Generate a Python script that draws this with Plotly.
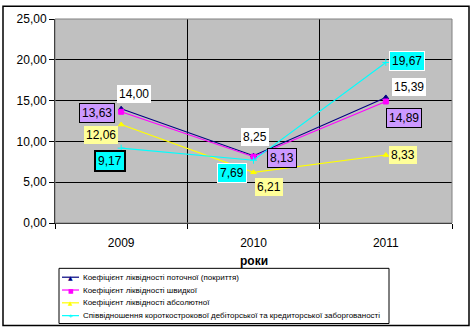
import plotly.graph_objects as go

years = ["2009", "2010", "2011"]
names = [
    "Коефіцієнт ліквідності поточної (покриття)",
    "Коефіцієнт ліквідності швидкої",
    "Коефіцієнт ліквідності абсолютної",
    "Співвідношення короткострокової дебіторської та кредиторської заборгованості",
]
current = [14.00, 8.25, 15.39]
quick = [13.63, 8.13, 14.89]
absolute = [12.06, 6.21, 8.33]
ratio = [9.17, 7.69, 19.67]
y_ticks = [0, 5, 10, 15, 20, 25]

series = [current, quick, absolute, ratio]
colors = ["#000080", "#FF00FF", "#FFFF00", "#00FFFF"]
symbols = ["triangle-up", "square", "triangle-up", "cross-thin"]
legend_glyphs = ["▲", "■", "▲", "+"]

FONT = "Liberation Sans, Arial"

# plot-area geometry in pixels (for converting layout positions)
L, R, T, B = 55, 452, 16, 223
def px(X):
    return (X - L) / (R - L)
def py(Y):
    return (B - Y) / (B - T)

fig = go.Figure()
for s, n, c, sym in zip(series, names, colors, symbols):
    fig.add_trace(go.Scatter(
        x=years, y=s, name=n, mode="lines+markers", showlegend=False,
        line=dict(color=c, width=1.1),
        marker=dict(symbol=sym, size=5, color=c, line=dict(color=c, width=1)),
    ))

def fmt(v):
    return f"{v:.2f}".replace(".", ",")

bgs = ["#FFFFFF", "#CC99FF", "#FFFF99", "#00FFFF"]
offsets = [
    [(13, 15), (1, 19), (23, 10)],
    [(-24, -1), (28, -1), (18, -16)],
    [(-20, -10), (15, -15), (17, 0)],
    [(-11, -13), (-22, -13), (21, 1)],
]
borders = [
    [None, None, None],
    [("#000000", 1)] * 3,
    [None, None, None],
    [("#000000", 2), ("#FFFFFF", 1), ("#FFFFFF", 1)],
]
for si, s in enumerate(series):
    for pi, v in enumerate(s):
        dx, dy = offsets[si][pi]
        b = borders[si][pi]
        fig.add_annotation(
            x=pi, y=v, xref="x", yref="y", text=fmt(v), showarrow=False,
            xshift=dx, yshift=dy, bgcolor=bgs[si],
            bordercolor=(b[0] if b else "rgba(0,0,0,0)"), borderwidth=(b[1] if b else 0),
            borderpad=2,
            font=dict(family=FONT, size=12, color="#000000"),
        )

fig.add_annotation(
    x=0.5, y=py(262), xref="paper", yref="paper", text="<b>роки</b>", showarrow=False,
    font=dict(family=FONT, size=12, color="#000000"), yanchor="middle",
)

# plot area border (gray) and outer chart border (black)
fig.add_shape(type="rect", xref="paper", yref="paper", x0=0, y0=0, x1=1, y1=1,
              line=dict(color="#808080", width=1), layer="above")
fig.add_shape(type="rect", xref="paper", yref="paper",
              x0=px(3), y0=py(327), x1=px(469), y1=py(3),
              line=dict(color="#000000", width=1.5), layer="above")

# manual legend (compact, like the original)
fig.add_shape(type="rect", xref="paper", yref="paper",
              x0=px(59), y0=py(325), x1=px(389), y1=py(269),
              line=dict(color="#000000", width=1), fillcolor="#FFFFFF", layer="above")
rows = [278, 291, 304, 317]
for n, c, g, Y in zip(names, colors, legend_glyphs, rows):
    fig.add_shape(type="line", xref="paper", yref="paper",
                  x0=px(62), x1=px(79), y0=py(Y), y1=py(Y),
                  line=dict(color=c, width=1.2), layer="above")
    fig.add_annotation(x=px(70.5), y=py(Y), xref="paper", yref="paper", text=g,
                       showarrow=False, font=dict(family="DejaVu Sans", size=6, color=c),
                       xanchor="center", yanchor="middle")
    fig.add_annotation(x=px(81), y=py(Y), xref="paper", yref="paper", text=n,
                       showarrow=False, xanchor="left", yanchor="middle",
                       font=dict(family=FONT, size=8, color="#000000"))

fig.update_layout(
    width=472, height=331,
    margin=dict(l=L, r=472 - R, t=T, b=331 - B),
    paper_bgcolor="#FFFFFF",
    plot_bgcolor="#C0C0C0",
    separators=", ",
    showlegend=False,
    xaxis=dict(
        type="category", range=[-0.5, 2.5], tickson="boundaries", showgrid=True,
        gridcolor="#000000", gridwidth=1, ticks="outside", ticklen=5, tickcolor="#000000",
        showline=True, linecolor="#000000", linewidth=1,
        tickfont=dict(family=FONT, size=12, color="#000000"),
        ticklabelstandoff=9,
    ),
    yaxis=dict(
        range=[0, 25], tickvals=y_ticks, tickformat=".2f", showgrid=True,
        gridcolor="#000000", gridwidth=1, ticks="outside", ticklen=5,
        tickcolor="#000000", showline=True, linecolor="#000000", linewidth=1,
        zeroline=False,
        tickfont=dict(family=FONT, size=12, color="#000000"),
    ),
)

fig.write_html("out.html")
